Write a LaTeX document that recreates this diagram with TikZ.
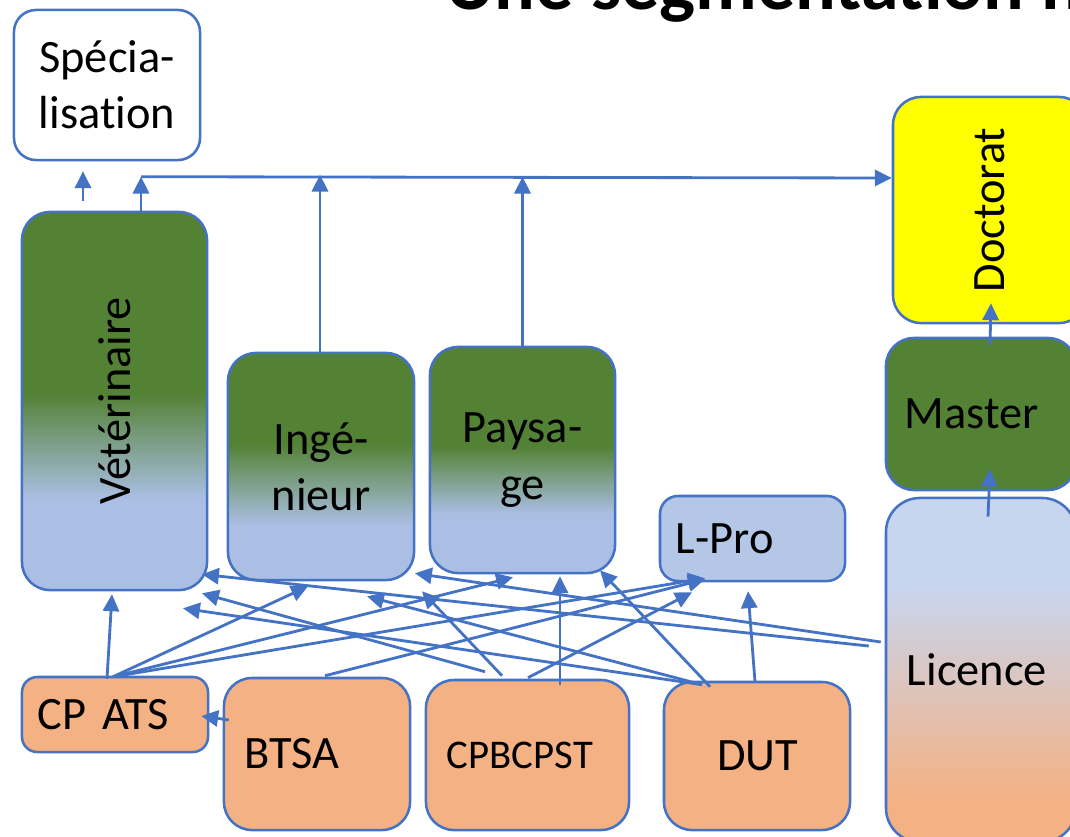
\documentclass[tikz,border=0pt]{standalone}
\usepackage{fontspec}
\setmainfont{Carlito}[Ligatures=NoCommon]
\usetikzlibrary{arrows.meta}
\usetikzlibrary{calc}

\definecolor{linkblue}{HTML}{4472C4}
\definecolor{leafgreen}{HTML}{548235}
\definecolor{paleblue}{HTML}{ABBFE5}
\definecolor{problue}{HTML}{B4C7E7}
\definecolor{licblue}{HTML}{C8D5EE}
\definecolor{peach}{HTML}{F4B183}
\definecolor{docyellow}{HTML}{FFFF00}

% vertical shadings (bottom = 0bp, node spans 25bp--75bp)
\pgfdeclareverticalshading{vetshade}{100bp}{color(0bp)=(paleblue); color(37bp)=(paleblue); color(51bp)=(leafgreen); color(100bp)=(leafgreen)}
\pgfdeclareverticalshading{ingeshade}{100bp}{color(0bp)=(paleblue); color(37bp)=(paleblue); color(55bp)=(leafgreen); color(100bp)=(leafgreen)}
\pgfdeclareverticalshading{paysshade}{100bp}{color(0bp)=(paleblue); color(38bp)=(paleblue); color(53bp)=(leafgreen); color(100bp)=(leafgreen)}
\pgfdeclareverticalshading{licshade}{100bp}{color(0bp)=(peach); color(31bp)=(peach); color(62bp)=(licblue); color(100bp)=(licblue)}

\tikzset{
  box/.style={draw=linkblue, line width=1.8pt, rounded corners=0.7cm, inner sep=2pt,
    font=\fontsize{33}{40}\selectfont, text=black},
  arr/.style={draw=linkblue, line width=2pt, -{Triangle[length=12pt,width=11.5pt]}},
}

\begin{document}
\begin{tikzpicture}[x=0.025cm, y=-0.025cm]
  \clip (0,0) rectangle (1070,836);

  % Title (cut off at the top)
  \node[anchor=base west, inner sep=0pt, font=\fontsize{54}{60}\selectfont\bfseries] (title) at (445,9) {Une segmentation n};

  % Upper row
  \node[box, fill=white, rounded corners=0.55cm, minimum width=4.65cm, minimum height=3.75cm, align=center] (spec) at (107,85) {Spécia-\\lisation};
  \node[box, shade, shading=vetshade, minimum width=4.625cm, minimum height=9.45cm] (vet) at (114.5,401) {\rotatebox{90}{Vétérinaire}};
  \node[box, shade, shading=ingeshade, minimum width=4.65cm, minimum height=5.675cm, align=center] (inge) at (321,466.5) {Ingé-\\nieur};
  \node[box, shade, shading=paysshade, minimum width=4.625cm, minimum height=5.65cm, align=center] (pays) at (522.5,460) {Paysa-\\ge};
  \node[box, fill=problue, rounded corners=0.45cm, minimum width=4.625cm, minimum height=2.125cm, inner xsep=0.4cm, text width=3.825cm, align=left] (lpro) at (752.5,538.5) {L-Pro};

  % Right column
  \node[box, fill=docyellow, minimum width=4.85cm, minimum height=5.65cm] (doct) at (990,210) {\rotatebox{90}{Doctorat}};
  \node[box, fill=leafgreen, minimum width=4.75cm, minimum height=3.8cm, inner xsep=0.475cm, text width=3.8cm, align=left] (master) at (981,414) {Master};
  \node[box, shade, shading=licshade, rounded corners=0.85cm, minimum width=4.75cm, minimum height=8.6cm, inner xsep=0.525cm, text width=3.7cm, align=left] (licence) at (981,670) {Licence};

  % Lower row
  \node[box, fill=peach, rounded corners=0.38cm, minimum width=4.65cm, minimum height=1.875cm, inner xsep=0.4cm, text width=3.85cm, align=left] (cpats) at (115,714.5) {CP ATS};
  \node[box, fill=peach, minimum width=4.65cm, minimum height=3.8cm, inner xsep=0.525cm, text width=3.6cm, align=left] (btsa) at (317,754) {BTSA};
  \node[box, fill=peach, minimum width=5.075cm, minimum height=3.75cm, inner xsep=0.525cm, text width=4.025cm, align=left, font=\fontsize{29}{35}\selectfont] (cpb) at (527.5,755) {CPBCPST};
  \node[box, fill=peach, minimum width=4.65cm, minimum height=3.7cm, inner xsep=1.325cm, text width=2cm, align=left] (dut) at (757,756) {DUT};

  % Arrows towards the top
  \draw[arr] ($(vet.north)+(-31.5,-10)$) -- ($(spec.south)+(-24,10)$);
  \draw[arr] ($(vet.north)+(26.5,0)$) -- ($(vet.north)+(26.5,-34)$);
  \draw[arr] ($(vet.north)+(26.5,-34)$) -- ($(doct.west)+(0,-32)$);
  \draw[arr] ($(inge.north)+(-1,0)$) -- ($(inge.north)+(-1,-177)$);
  \draw[arr] (pays.north) -- ($(pays.north)+(0,-169)$);
  \draw[arr] ($(master.north)+(9,8)$) -- ($(doct.south)+(1,-21)$);
  \draw[arr] ($(licence.north)+(7,20)$) -- ($(master.south)+(9,-22)$);

  % Arrows from CP ATS
  \draw[arr] ($(cpats.north)+(-8,3)$) -- ($(vet.south)+(-2.5,3)$);
  \draw[arr] ($(cpats.north)+(-2,1)$) -- ($(inge.south)+(-13,5)$);
  \draw[arr] ($(cpats.north)+(-2,1)$) -- ($(pays.south)+(-9.5,3)$);
  \draw[arr] ($(cpats.north)+(-2,1)$) -- ($(lpro.south)+(-47.5,-4)$);

  % Arrows from BTSA
  \draw[arr] ($(btsa.west)+(6,-34)$) -- ($(cpats.east)+(-8,1.5)$);
  \draw[arr] ($(btsa.north)+(8,-1)$) -- ($(lpro.south)+(-47.5,-3)$);

  % Arrows from CPBCPST
  \draw[arr] ($(cpb.north)+(0.5,-1)$) -- ($(lpro.south)+(-60.5,10)$);
  \draw[arr] ($(cpb.north)+(32.5,6)$) -- ($(pays.south)+(37.5,2)$);
  \draw[arr] ($(cpb.north)+(-25.5,-3)$) -- ($(inge.south)+(101,10)$);
  \draw[arr] ($(cpb.north)+(-42.5,-7)$) -- ($(vet.south)+(87.5,2)$);

  % Arrows from DUT
  \draw[arr] ($(dut.north)+(-2,1)$) -- ($(lpro.south)+(-4.5,9)$);
  \draw[arr] ($(dut.north)+(-47,6)$) -- ($(pays.south)+(77.5,-4)$);
  \draw[arr] ($(dut.north)+(-55,4)$) -- ($(inge.south)+(46,15)$);
  \draw[arr] ($(dut.north)+(-55,4)$) -- ($(vet.south)+(68.5,17)$);

  % Arrows from Licence
  \draw[arr] ($(licence.west)+(-4,-28)$) -- ($(inge.south)+(94,-8)$);
  \draw[arr] ($(licence.west)+(-16,-24)$) -- ($(vet.south)+(87.5,-17)$);
\end{tikzpicture}
\end{document}
